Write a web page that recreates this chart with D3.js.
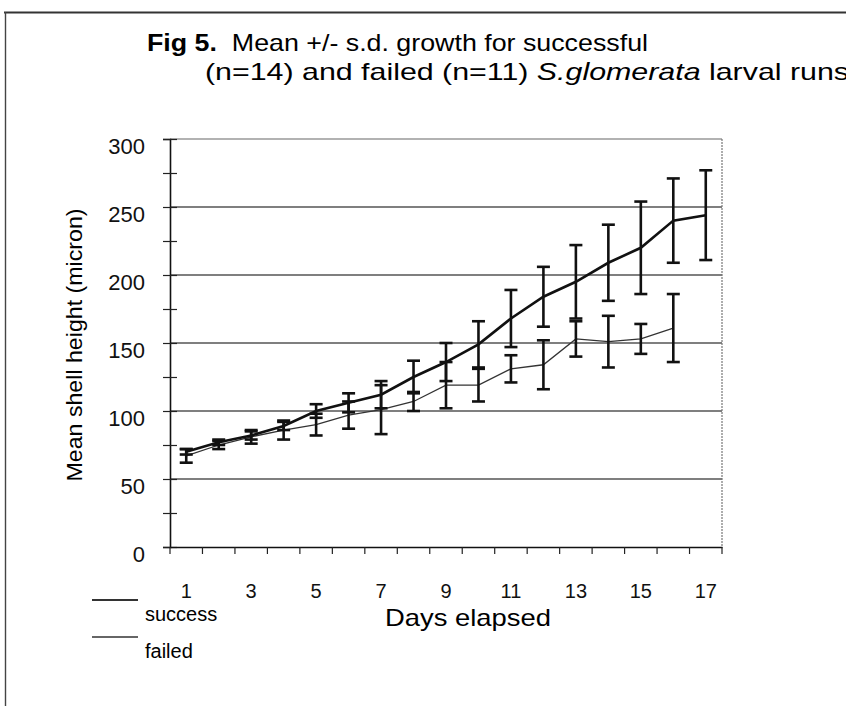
<!DOCTYPE html>
<html>
<head>
<meta charset="utf-8">
<script src="https://cdn.jsdelivr.net/npm/d3@7"></script>
<style>
  body { margin: 0; background: #fff; }
  svg { display: block; font-family: "Liberation Sans", Arial, sans-serif; }
</style>
</head>
<body>
<div id="chart"></div>
<script>
// days on the x axis
var days = [1, 2, 3, 4, 5, 6, 7, 8, 9, 10, 11, 12, 13, 14, 15, 16, 17];

// successful runs (n=14): mean and s.d.
var successMean = [70, 77, 82, 89, 100, 106, 112, 125, 136, 149, 168, 184, 195, 209, 220, 240, 244];
var successSd   = [2, 2, 3, 3, 5, 7, 10, 12, 14, 17, 21, 22, 27, 28, 34, 31, 33];

// failed runs (n=11): mean and s.d. (no day 17)
var failedMean = [67, 75, 81, 86, 90, 97, 101, 107, 119, 119, 131, 134, 153, 151, 153, 161];
var failedSd   = [5, 3, 5, 7, 8, 10, 18, 7, 17, 12, 10, 18, 13, 19, 11, 25];

var yTicks = [0, 25, 50, 75, 100, 125, 150, 175, 200, 225, 250, 275, 300];
var yGrid = [50, 100, 150, 200, 250];

var W = 846, H = 706;
var plot = {left: 170, right: 722, top: 139, bottom: 547};

var svg = d3.select('#chart').append('svg')
    .attr('width', W)
    .attr('height', H);

// outer frame of the scanned page
svg.append('line')
    .attr('x1', 4).attr('x2', W).attr('y1', 12.5).attr('y2', 12.5)
    .attr('stroke', '#333').attr('stroke-width', 2.2);
svg.append('line')
    .attr('x1', 5.5).attr('x2', 5.5).attr('y1', 12).attr('y2', H)
    .attr('stroke', '#444').attr('stroke-width', 1.4);

// scales
var x = d3.scaleBand()
    .domain(days)
    .range([plot.left, plot.right])
    .padding(0);

var y = d3.scaleLinear()
    .domain([0, 300])
    .range([plot.bottom, plot.top]);

var cx = function (d) { return x(d) + x.bandwidth() / 2; };

// title
var title = svg.append('g');
var t1 = title.append('text')
    .attr('x', 147).attr('y', 51)
    .attr('font-size', 24)
    .attr('textLength', 501)
    .attr('lengthAdjust', 'spacingAndGlyphs');
t1.append('tspan').attr('font-weight', 'bold').text('Fig 5.');
t1.append('tspan').text('\u00a0 Mean +/- s.d. growth for successful');

var t2 = title.append('text')
    .attr('x', 205).attr('y', 80)
    .attr('font-size', 24)
    .attr('textLength', 644)
    .attr('lengthAdjust', 'spacingAndGlyphs');
t2.append('tspan').text('(n=14) and failed (n=11) ');
t2.append('tspan').attr('font-style', 'italic').text('S.glomerata');
t2.append('tspan').text(' larval runs');

// gridlines
svg.append('g').selectAll('line').data(yGrid).enter().append('line')
    .attr('x1', plot.left).attr('x2', plot.right)
    .attr('y1', function (d) { return y(d); })
    .attr('y2', function (d) { return y(d); })
    .attr('stroke', '#555')
    .attr('stroke-width', 1.3);

// plot area border (top and right)
svg.append('line')
    .attr('x1', plot.left).attr('x2', plot.right)
    .attr('y1', y(300)).attr('y2', y(300))
    .attr('stroke', '#666').attr('stroke-width', 1.2);
svg.append('line')
    .attr('x1', plot.right).attr('x2', plot.right)
    .attr('y1', y(300)).attr('y2', y(0))
    .attr('stroke', '#777').attr('stroke-width', 1.2)
    .attr('stroke-dasharray', '2,1');

// series lines
var successPts = days.map(function (d, i) { return {day: d, mean: successMean[i], sd: successSd[i]}; });
var failedPts = failedMean.map(function (m, i) { return {day: days[i], mean: m, sd: failedSd[i]}; });

var line = d3.line()
    .x(function (d) { return cx(d.day); })
    .y(function (d) { return y(d.mean); });

svg.append('path')
    .datum(failedPts)
    .attr('d', line)
    .attr('fill', 'none')
    .attr('stroke', '#333')
    .attr('stroke-width', 1.3);

svg.append('path')
    .datum(successPts)
    .attr('d', line)
    .attr('fill', 'none')
    .attr('stroke', '#111')
    .attr('stroke-width', 2.6);

// error bars
function errorBars(data, cls) {
    var g = svg.append('g').attr('class', cls);
    var bar = g.selectAll('g').data(data).enter().append('g');
    var cap = 6.5;
    bar.append('line')
        .attr('x1', function (d) { return cx(d.day); })
        .attr('x2', function (d) { return cx(d.day); })
        .attr('y1', function (d) { return y(d.mean + d.sd); })
        .attr('y2', function (d) { return y(d.mean - d.sd); });
    bar.append('line')
        .attr('x1', function (d) { return cx(d.day) - cap; })
        .attr('x2', function (d) { return cx(d.day) + cap; })
        .attr('y1', function (d) { return y(d.mean + d.sd); })
        .attr('y2', function (d) { return y(d.mean + d.sd); });
    bar.append('line')
        .attr('x1', function (d) { return cx(d.day) - cap; })
        .attr('x2', function (d) { return cx(d.day) + cap; })
        .attr('y1', function (d) { return y(d.mean - d.sd); })
        .attr('y2', function (d) { return y(d.mean - d.sd); });
    g.selectAll('line')
        .attr('stroke', '#111')
        .attr('stroke-width', 2.6);
}
errorBars(failedPts, 'err-failed');
errorBars(successPts, 'err-success');

// y axis
var yAxis = svg.append('g')
    .attr('transform', 'translate(' + plot.left + ',0)')
    .call(d3.axisLeft(y)
        .tickValues(yTicks)
        .tickSize(7)
        .tickPadding(18)
        .tickFormat(function (d) { return d % 50 === 0 ? d : ''; }));
yAxis.select('.domain').attr('stroke', '#111').attr('stroke-width', 1.6);
yAxis.selectAll('.tick line').attr('x1', 7).attr('stroke', '#222').attr('stroke-width', 1.2);
yAxis.selectAll('.tick text')
    .attr('y', 7)
    .attr('font-size', 22)
    .attr('font-family', '"Liberation Sans", Arial, sans-serif')
    .attr('fill', '#111');

// x axis: labels at band centres, ticks on band edges
var xAxis = svg.append('g')
    .attr('transform', 'translate(0,' + plot.bottom + ')')
    .call(d3.axisBottom(x)
        .tickSize(0)
        .tickPadding(37)
        .tickFormat(function (d) { return d % 2 ? d : ''; }));
xAxis.select('.domain').attr('stroke', '#111').attr('stroke-width', 1.6);
xAxis.selectAll('.tick text')
    .attr('font-size', 20)
    .attr('font-family', '"Liberation Sans", Arial, sans-serif')
    .attr('fill', '#111');

var edges = days.map(function (d) { return x(d); }).concat([plot.right]);
svg.append('g').selectAll('line').data(edges).enter().append('line')
    .attr('x1', function (d) { return d; })
    .attr('x2', function (d) { return d; })
    .attr('y1', plot.bottom)
    .attr('y2', plot.bottom + 7)
    .attr('stroke', '#222')
    .attr('stroke-width', 1.2);

// axis titles
svg.append('text')
    .attr('transform', 'translate(82,' + ((plot.top + plot.bottom) / 2 + 2) + ')rotate(-90)')
    .attr('text-anchor', 'middle')
    .attr('font-size', 22)
    .attr('textLength', 273)
    .attr('lengthAdjust', 'spacingAndGlyphs')
    .text('Mean shell height (micron)');

svg.append('text')
    .attr('x', 385).attr('y', 626)
    .attr('font-size', 24)
    .attr('textLength', 166)
    .attr('lengthAdjust', 'spacingAndGlyphs')
    .text('Days elapsed');

// legend
var legend = [
    {label: 'success', y: 600, width: 2},
    {label: 'failed', y: 637, width: 1.6}
];
var lg = svg.append('g').selectAll('g').data(legend).enter().append('g');
lg.append('line')
    .attr('x1', 92).attr('x2', 138)
    .attr('y1', function (d) { return d.y; })
    .attr('y2', function (d) { return d.y; })
    .attr('stroke', '#333')
    .attr('stroke-width', function (d) { return d.width; });
lg.append('text')
    .attr('x', 145)
    .attr('y', function (d) { return d.y + 21; })
    .attr('font-size', 20)
    .text(function (d) { return d.label; });
</script>
</body>
</html>
